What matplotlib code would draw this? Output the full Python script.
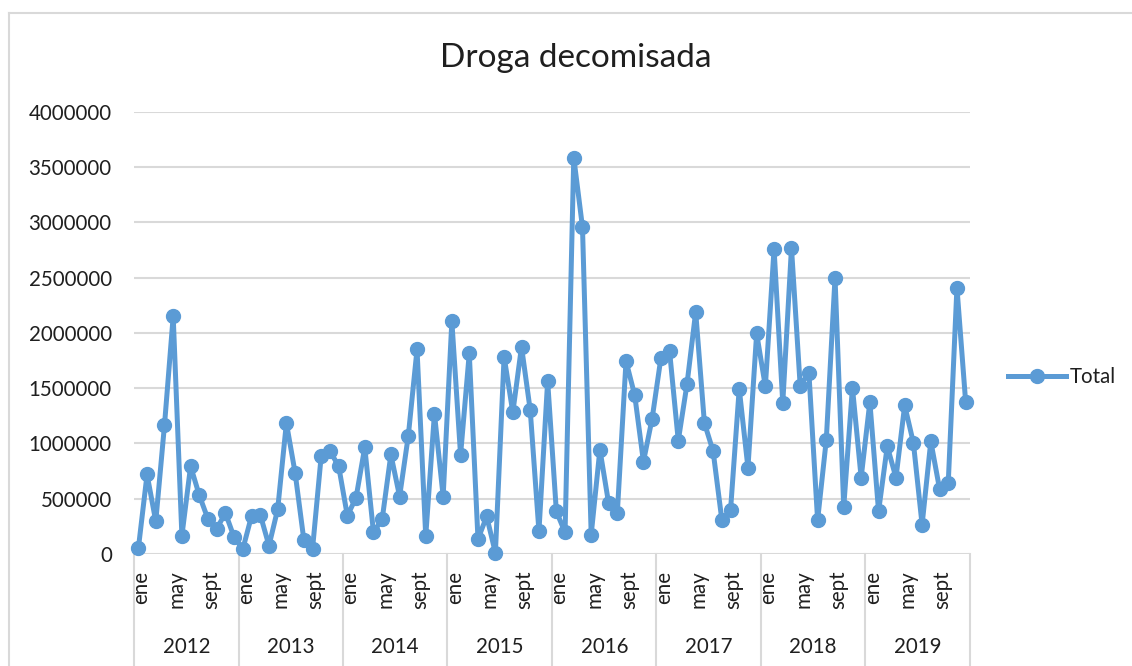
import matplotlib
matplotlib.use("Agg")
import matplotlib.pyplot as plt
import matplotlib.transforms as mtransforms
from matplotlib.lines import Line2D
from matplotlib.ticker import FuncFormatter
import numpy as np


years = ["2012", "2013", "2014", "2015", "2016", "2017", "2018", "2019"]
months = ["ene", "feb", "mar", "abr", "may", "jun", "jul", "ago", "sept", "oct", "nov", "dic"]

total_2012 = [50000, 720000, 295000, 1165000, 2150000, 165000, 795000, 530000, 315000, 230000, 370000, 150000]
total_2013 = [45000, 345000, 355000, 75000, 405000, 1185000, 735000, 130000, 45000, 890000, 930000, 795000]
total_2014 = [345000, 510000, 965000, 195000, 315000, 900000, 520000, 1070000, 1850000, 160000, 1270000, 520000]
total_2015 = [2105000, 895000, 1815000, 135000, 340000, 10000, 1785000, 1280000, 1875000, 1300000, 205000, 1565000]
total_2016 = [385000, 195000, 3585000, 2955000, 175000, 945000, 460000, 370000, 1745000, 1435000, 835000, 1225000]
total_2017 = [1770000, 1835000, 1025000, 1535000, 2190000, 1185000, 930000, 310000, 395000, 1495000, 780000, 1995000]
total_2018 = [1515000, 2760000, 1365000, 2770000, 1520000, 1640000, 305000, 1035000, 2500000, 425000, 1505000, 690000]
total_2019 = [1375000, 385000, 975000, 690000, 1345000, 1005000, 265000, 1020000, 590000, 640000, 2410000, 1375000]

BLUE = "#5B9BD5"
GRID = "#D9D9D9"
TEXT = "#1f1f1f"
FS = 14.8

plt.rcParams["font.family"] = ["Lato", "DejaVu Sans"]

total = np.concatenate([total_2012, total_2013, total_2014, total_2015,
                        total_2016, total_2017, total_2018, total_2019])
x = np.arange(len(total)) + 0.5

W, H = 1132, 666
fig = plt.figure(figsize=(W / 100, H / 100), dpi=100)
ax = fig.add_axes([134 / W, 1 - 554 / H, 836 / W, 442.3 / H])

ax.plot(x, total, color=BLUE, lw=3.6, marker="o", ms=10, label="Total",
        clip_on=False, solid_joinstyle="round", zorder=3)

ax.set_xlim(0, len(total))
ax.set_ylim(0, 4000000)
ax.set_yticks(np.arange(0, 4000001, 500000))
ax.yaxis.set_major_formatter(FuncFormatter(lambda v, p: f"{int(v)}"))
ax.grid(axis="y", color=GRID, lw=1.5)
ax.set_axisbelow(True)
for s in ax.spines.values():
    s.set_visible(False)

# month ticks: only every fourth month is labelled
tick_pos = [12 * k + m + 0.5 for k in range(len(years)) for m in (0, 4, 8)]
tick_lab = [months[m] for k in range(len(years)) for m in (0, 4, 8)]
ax.set_xticks(tick_pos)
ax.set_xticklabels(tick_lab, rotation=90)
ax.tick_params(axis="x", length=0, pad=12, labelsize=FS, labelcolor=TEXT)
ax.tick_params(axis="y", length=0, pad=16, labelsize=FS, labelcolor=TEXT)
shift = mtransforms.ScaledTranslation(3 / 100, 0, fig.dpi_scale_trans)
for lab in ax.get_xticklabels():
    lab.set_transform(lab.get_transform() + shift)
    lab.set_zorder(5)

# year groups under the month labels
trans = mtransforms.blended_transform_factory(ax.transData, ax.transAxes)
for b in range(0, len(total) + 1, 12):
    ax.plot([b, b], [0, -0.26], transform=trans, color=GRID, lw=1.5,
            clip_on=False, zorder=0)
for k, yr in enumerate(years):
    ax.text(12 * k + 6, -0.21, yr, transform=trans, ha="center", va="center",
            fontsize=FS, color=TEXT)

fig.text(576 / W, 1 - 58 / H, "Droga decomisada", ha="center", va="center",
         fontsize=24, color=TEXT)

fig.legend(loc="center left", bbox_to_anchor=(1008 / W, 1 - 377 / H), frameon=False,
           fontsize=FS, handlelength=2.8, handletextpad=0.2, borderpad=0,
           borderaxespad=0, labelcolor=TEXT)

# chart area border (cropped at right and bottom)
fig.add_artist(Line2D([9 / W, 1], [1 - 13 / H] * 2, transform=fig.transFigure, color=GRID, lw=1.5))
fig.add_artist(Line2D([9 / W] * 2, [0, 1 - 13 / H], transform=fig.transFigure, color=GRID, lw=1.5))

fig.savefig("out.png", dpi=100)
